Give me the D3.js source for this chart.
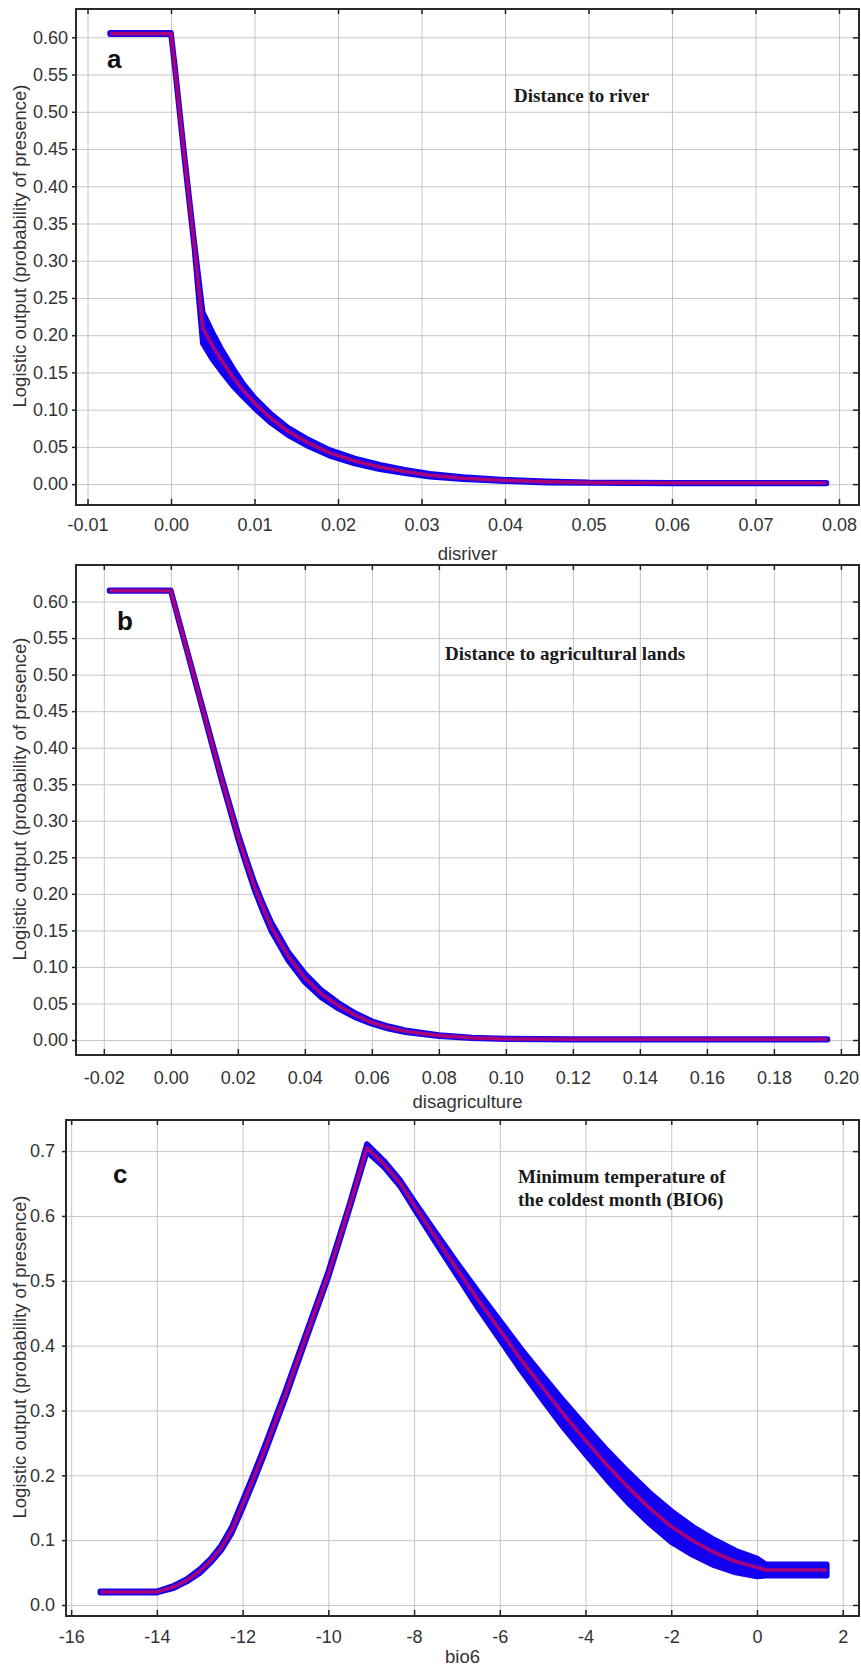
<!DOCTYPE html>
<html>
<head>
<meta charset="utf-8">
<script src="https://d3js.org/d3.v7.min.js"></script>
<style>
body { margin: 0; background: #fff; }
svg text { font-family: "Liberation Sans", Arial, sans-serif; fill: #333; }
.grid line { stroke: #c6c6c6; stroke-width: 1; }
.grid path { display: none; }
.ax path { display: none; }
.ax line { stroke: #222; stroke-width: 1.5; }
.ax text { font-size: 18px; }
</style>
</head>
<body>
<div id="chart"></div>
<script>

// ---- panel a : distance to river ----
var aX    = [-0.0073, 0, 0.0005, 0.0016, 0.0028, 0.0038, 0.005, 0.006, 0.0074, 0.0085, 0.01, 0.012, 0.014, 0.0165, 0.019, 0.022, 0.025, 0.028, 0.031, 0.035, 0.04, 0.045, 0.05, 0.06, 0.0785];
var aMean = [0.605, 0.605, 0.556, 0.44, 0.32, 0.21, 0.185, 0.167, 0.144, 0.128, 0.109, 0.088, 0.071, 0.055, 0.042, 0.031, 0.023, 0.017, 0.012, 0.008, 0.005, 0.003, 0.002, 0.0015, 0.0015];
var aSd   = [0.001, 0.001, 0.002, 0.003, 0.004, 0.021, 0.018, 0.015, 0.012, 0.009, 0.007, 0.006, 0.005, 0.0045, 0.004, 0.0035, 0.003, 0.0025, 0.002, 0.0015, 0.001, 0.001, 0.0005, 0.0005, 0.0005];
var aXTicks = [-0.01, 0, 0.01, 0.02, 0.03, 0.04, 0.05, 0.06, 0.07, 0.08];
var aYTicks = [0, 0.05, 0.1, 0.15, 0.2, 0.25, 0.3, 0.35, 0.4, 0.45, 0.5, 0.55, 0.6];

// ---- panel b : distance to agricultural lands ----
var bX    = [-0.0183, 0, 0.0025, 0.005, 0.01, 0.015, 0.02, 0.0225, 0.025, 0.0275, 0.03, 0.035, 0.04, 0.045, 0.05, 0.055, 0.06, 0.065, 0.07, 0.08, 0.09, 0.1, 0.12, 0.196];
var bMean = [0.615, 0.615, 0.572, 0.53, 0.445, 0.36, 0.28, 0.244, 0.21, 0.181, 0.155, 0.115, 0.085, 0.063, 0.047, 0.034, 0.024, 0.017, 0.012, 0.006, 0.003, 0.0015, 0.001, 0.001];
var bSd   = [0.0005, 0.0005, 0.001, 0.001, 0.002, 0.003, 0.004, 0.0045, 0.005, 0.0055, 0.006, 0.006, 0.006, 0.005, 0.004, 0.003, 0.002, 0.0018, 0.0015, 0.001, 0.0005, 0.0005, 0.0005, 0.0005];
var bXTicks = [-0.02, 0, 0.02, 0.04, 0.06, 0.08, 0.1, 0.12, 0.14, 0.16, 0.18, 0.2];
var bYTicks = [0, 0.05, 0.1, 0.15, 0.2, 0.25, 0.3, 0.35, 0.4, 0.45, 0.5, 0.55, 0.6];

// ---- panel c : bio6 ----
var cX    = [-15.32, -14, -13.6, -13.3, -13, -12.75, -12.5, -12.25, -12, -11.75, -11.5, -11, -10.5, -10, -9.5, -9.1, -8.7, -8.33, -8, -7.5, -7, -6.5, -6, -5.5, -5, -4.5, -4, -3.5, -3, -2.5, -2, -1.5, -1, -0.5, 0, 0.2, 1.63];
var cMean = [0.02, 0.02, 0.028, 0.038, 0.052, 0.068, 0.088, 0.116, 0.155, 0.195, 0.237, 0.325, 0.418, 0.51, 0.616, 0.705, 0.68, 0.651, 0.617, 0.567, 0.518, 0.47, 0.424, 0.378, 0.335, 0.293, 0.254, 0.216, 0.181, 0.149, 0.121, 0.099, 0.081, 0.067, 0.058, 0.054, 0.054];
var cSd   = [0.001, 0.001, 0.002, 0.002, 0.003, 0.003, 0.004, 0.005, 0.006, 0.006, 0.006, 0.006, 0.005, 0.005, 0.004, 0.006, 0.005, 0.005, 0.006, 0.008, 0.01, 0.013, 0.015, 0.017, 0.019, 0.021, 0.022, 0.023, 0.024, 0.024, 0.024, 0.022, 0.02, 0.017, 0.014, 0.009, 0.009];
var cXTicks = [-16, -14, -12, -10, -8, -6, -4, -2, 0, 2];
var cYTicks = [0, 0.1, 0.2, 0.3, 0.4, 0.5, 0.6, 0.7];

var yTitle = "Logistic output (probability of presence)";

var panels = [
  {x: aX, mean: aMean, sd: aSd, xTicks: aXTicks, yTicks: aYTicks, xDom: [-0.01138, 0.0824], yDom: [-0.028, 0.638],
   left: 76, right: 859, top: 9, bottom: 505, fx: ".2f", fy: ".2f", padX: 13, padY: 4,
   xTitle: "disriver", xTitleY: 560, letter: "a", letterPos: [107, 68], note: ["Distance to river"], notePos: [514, 102]},
  {x: bX, mean: bMean, sd: bSd, xTicks: bXTicks, yTicks: bYTicks, xDom: [-0.0283, 0.2054], yDom: [-0.0205, 0.650],
   left: 76, right: 859, top: 565, bottom: 1055, fx: ".2f", fy: ".2f", padX: 16, padY: 4,
   xTitle: "disagriculture", xTitleY: 1108, letter: "b", letterPos: [117, 630], note: ["Distance to agricultural lands"], notePos: [445, 660]},
  {x: cX, mean: cMean, sd: cSd, xTicks: cXTicks, yTicks: cYTicks, xDom: [-16.12, 2.38], yDom: [-0.017, 0.748],
   left: 66, right: 859, top: 1120, bottom: 1616, fx: "d", fy: ".1f", padX: 14, padY: 7,
   xTitle: "bio6", xTitleY: 1663, letter: "c", letterPos: [113, 1183], note: ["Minimum temperature of", "the coldest month (BIO6)"], notePos: [518, 1183]}
];

var svg = d3.select("#chart").append("svg")
  .attr("width", 861)
  .attr("height", 1670);

function fmt(f) {
  var base = d3.format(f);
  return function(d) { return base(d).replace("\u2212", "-"); };
}

panels.forEach(function(p) {
  var x = d3.scaleLinear().domain(p.xDom).range([p.left, p.right]);
  var y = d3.scaleLinear().domain(p.yDom).range([p.bottom, p.top]);
  var w = p.right - p.left, h = p.bottom - p.top;
  var g = svg.append("g");

  // grid
  g.append("g").attr("class", "grid")
    .attr("transform", "translate(0," + p.bottom + ")")
    .call(d3.axisBottom(x).tickValues(p.xTicks).tickSize(-h).tickFormat(""));
  g.append("g").attr("class", "grid")
    .attr("transform", "translate(" + p.left + ",0)")
    .call(d3.axisLeft(y).tickValues(p.yTicks).tickSize(-w).tickFormat(""));

  // curve: blue band (mean +/- sd) and red mean line
  var pts = p.x.map(function(v, i) { return {x: v, m: p.mean[i], s: p.sd[i]}; });
  var band = d3.area()
    .x(function(d) { return x(d.x); })
    .y0(function(d) { return y(d.m - d.s); })
    .y1(function(d) { return y(d.m + d.s); });
  var line = d3.line()
    .x(function(d) { return x(d.x); })
    .y(function(d) { return y(d.m); });

  g.append("path").datum(pts)
    .attr("d", band)
    .attr("fill", "#1400f0")
    .attr("stroke", "#1400f0")
    .attr("stroke-width", 5.5)
    .attr("stroke-linejoin", "round");
  g.append("path").datum(pts)
    .attr("d", line)
    .attr("fill", "none")
    .attr("stroke", "#e8004a")
    .attr("stroke-width", 3.6)
    .attr("stroke-linejoin", "round")
    .attr("stroke-opacity", 0.7);

  // axes
  g.append("g").attr("class", "ax")
    .attr("transform", "translate(0," + p.bottom + ")")
    .call(d3.axisBottom(x).tickValues(p.xTicks).tickSizeInner(-6).tickSizeOuter(0).tickPadding(p.padX).tickFormat(fmt(p.fx)));
  g.append("g").attr("class", "ax")
    .attr("transform", "translate(0," + p.top + ")")
    .call(d3.axisTop(x).tickValues(p.xTicks).tickSizeInner(-5).tickSizeOuter(0).tickFormat(""));
  g.append("g").attr("class", "ax")
    .attr("transform", "translate(" + p.left + ",0)")
    .call(d3.axisLeft(y).tickValues(p.yTicks).tickSizeInner(4).tickSizeOuter(0).tickPadding(p.padY).tickFormat(fmt(p.fy)));
  g.append("g").attr("class", "ax")
    .attr("transform", "translate(" + p.right + ",0)")
    .call(d3.axisRight(y).tickValues(p.yTicks).tickSizeInner(-6).tickSizeOuter(0).tickFormat(""));

  // frame
  g.append("rect")
    .attr("x", p.left).attr("y", p.top)
    .attr("width", w).attr("height", h)
    .attr("fill", "none")
    .attr("stroke", "#2a2a2a")
    .attr("stroke-width", 2);

  // titles
  g.append("text")
    .attr("x", (p.left + p.right) / 2)
    .attr("y", p.xTitleY)
    .attr("text-anchor", "middle")
    .attr("font-size", "18.5px")
    .text(p.xTitle);
  g.append("text")
    .attr("transform", "translate(26," + ((p.top + p.bottom) / 2 - 11) + ") rotate(-90)")
    .attr("text-anchor", "middle")
    .attr("font-size", "18.5px")
    .text(yTitle);

  // panel letter
  g.append("text")
    .attr("x", p.letterPos[0]).attr("y", p.letterPos[1])
    .attr("font-size", "26px")
    .attr("font-weight", "bold")
    .style("fill", "#111")
    .text(p.letter);

  // annotation
  var note = g.append("text")
    .attr("x", p.notePos[0]).attr("y", p.notePos[1])
    .attr("font-weight", "bold")
    .attr("font-size", "19px")
    .style("font-family", "'Liberation Serif', 'Times New Roman', serif")
    .style("fill", "#1a1a1a");
  p.note.forEach(function(t, i) {
    note.append("tspan").attr("x", p.notePos[0]).attr("dy", i === 0 ? 0 : 23).text(t);
  });
});

</script>
</body>
</html>
